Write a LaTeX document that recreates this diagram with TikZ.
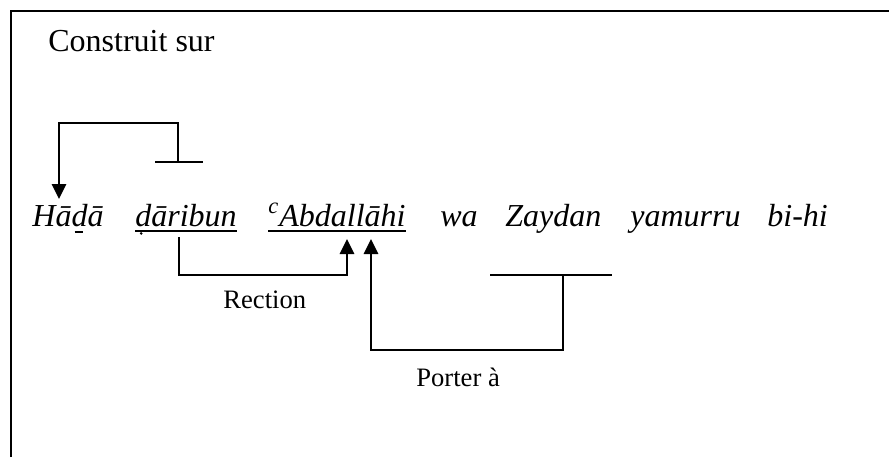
\documentclass[tikz,border=0pt]{standalone}
\usepackage{fontspec}
\setmainfont{Liberation Serif}
\usetikzlibrary{arrows.meta}
\newcommand\barbelowd{\ooalign{d\cr\hidewidth\raisebox{-0.22em}{\rule{0.26em}{0.05em}}\kern0.04em\hidewidth\cr}}
\tikzset{
  word/.style={font=\fontsize{16}{19}\selectfont\itshape, inner sep=0pt, anchor=base west},
  lab/.style={font=\fontsize{13.3}{16}\selectfont, inner sep=0pt, anchor=base west},
  ttl/.style={font=\fontsize{16}{19}\selectfont, inner sep=0pt, anchor=base west},
  ln/.style={line width=1pt},
  arr/.style={ln, -{Triangle[length=7.5pt,width=7.2pt]}},
  uline/.style={line width=0.75pt},
  frameline/.style={line width=1pt}
}
\begin{document}
\begin{tikzpicture}[x=0.5pt,y=-0.5pt]
\useasboundingbox (0,0) rectangle (889,457);
% frame
\draw[frameline] (10.5,457) -- (10.5,10.5) -- (889,10.5);
% title
\node[ttl] (title) at (48,51) {Construit sur};
% words
\node[word] (w1) at (32,226) {H\=a\barbelowd\=a};
\node[word] (w2) at (135,226) {d\=aribun};
\node[word] (w3) at (268,226) {\textsuperscript{c}Abdall\=ahi};
\node[word] (w4) at (440,226) {wa};
\node[word] (w5) at (505,226) {Zaydan};
\node[word] (w6) at (630,226) {yamurru};
\node[word] (w7) at (767,226) {bi-hi};
% dot below d of w2
\fill ([xshift=3.1pt,yshift=-3.7pt]w2.base west) circle (0.7pt);
% underlines
\draw[uline] ([yshift=-2.6pt]w2.base west) -- ([yshift=-2.6pt]w2.base east);
\draw[uline] ([yshift=-2.6pt]w3.base west) -- ([yshift=-2.6pt]w3.base east);
% top bracket
\coordinate (tbarL) at (155,162);
\coordinate (tbarR) at (203,162);
\coordinate (tstem) at (178,162);
\coordinate (hTip) at (59,199);
\draw[ln] (tbarL) -- (tbarR);
\draw[arr] (tstem) -- (178,123) -| (hTip);
% rection
\coordinate (rStart) at (179,237);
\coordinate (rTip) at (347,239);
\draw[arr] (rStart) -- (179,275) -| (rTip);
\node[lab] (rection) at (223,308) {Rection};
% porter
\coordinate (zbarL) at (490,275);
\coordinate (zbarR) at (612,275);
\coordinate (zstem) at (563,275);
\coordinate (pTip) at (371,239);
\draw[ln] (zbarL) -- (zbarR);
\draw[arr] (zstem) -- (563,350) -| (pTip);
\node[lab] (porter) at (416,386) {Porter à};
\end{tikzpicture}
\end{document}
